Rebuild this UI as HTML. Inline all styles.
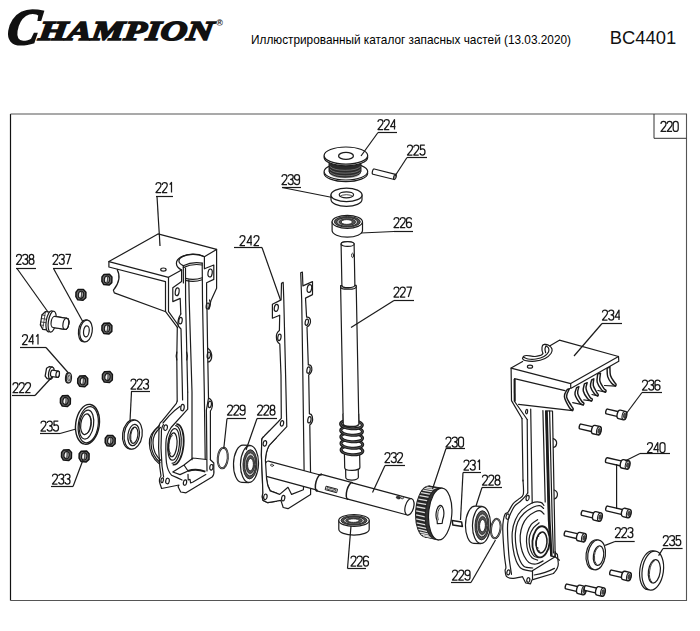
<!DOCTYPE html>
<html><head><meta charset="utf-8"><title>BC4401</title>
<style>
html,body{margin:0;padding:0;background:#fff}
svg{display:block}
.l{fill:none;stroke:#1c1c1c;stroke-width:1.2;stroke-linejoin:round;stroke-linecap:round}
.w{fill:#fff;stroke:#1c1c1c;stroke-width:1.2;stroke-linejoin:round;stroke-linecap:round}
.n{fill:none;stroke:#333;stroke-width:.7;stroke-linejoin:round;stroke-linecap:round}
.d{fill:#222;stroke:#222;stroke-width:.8;stroke-linejoin:round}
.k{fill:none;stroke:#1a1a1a;stroke-width:1.2;stroke-linecap:butt}
.t path{fill:none;stroke:#1a1a1a;stroke-width:1.25;stroke-linejoin:round;stroke-linecap:butt;vector-effect:non-scaling-stroke}
</style></head><body>
<svg width="700" height="631" viewBox="0 0 700 631">
<rect width="700" height="631" fill="#fff"/>
<g id="hdr">
<g transform="translate(5.6,44.3) skewX(-9)"><text id="logoC" x="0" y="0" font-family="Liberation Serif, serif" font-weight="bold" font-style="italic" font-size="51" stroke="#111" stroke-width="2.2" fill="#111" textLength="32" lengthAdjust="spacingAndGlyphs">C</text></g>
<g transform="translate(38,39.5) skewX(-7)"><text id="logoT" x="0" y="0" font-family="Liberation Serif, serif" font-weight="bold" font-style="italic" font-size="27.3" stroke="#111" stroke-width="1.7" fill="#111" textLength="174.5" lengthAdjust="spacingAndGlyphs">HAMPION</text></g>
<text id="reg" x="216.2" y="26.4" font-family="Liberation Sans, sans-serif" font-size="9" font-weight="bold" fill="#222">®</text>
<text id="ttl" x="251" y="44.3" font-family="Liberation Sans, sans-serif" font-size="13.3" fill="#000" textLength="320" lengthAdjust="spacingAndGlyphs">Иллюстрированный каталог запасных частей (13.03.2020)</text>
<text id="mdl" x="609.7" y="43.6" font-family="Liberation Sans, sans-serif" font-size="18.4" fill="#111">BC4401</text>
</g>
<path d="M10.5,600.5V114" stroke="#111" stroke-width="1.2" fill="none"/>
<path d="M10.5,114H686.5V600.5H10.5" stroke="#555" stroke-width="1.1" fill="none"/>
<path d="M654,114V138.3H686.5" stroke="#333" stroke-width="1" fill="none"/>
<g class="t"><path transform="translate(661.00,121.40) scale(1.000,1.000)" d="M0,2.6Q0,0 2.5,0Q5,0 5,2.5Q5,4 3.6,5.6L0,10H5"/><path transform="translate(667.10,121.40) scale(1.000,1.000)" d="M0,2.6Q0,0 2.5,0Q5,0 5,2.5Q5,4 3.6,5.6L0,10H5"/><path transform="translate(673.20,121.40) scale(1.000,1.000)" d="M0,2.5Q0,0 2.5,0Q5,0 5,2.5V7.5Q5,10 2.5,10Q0,10 0,7.5Z"/></g>
<path class="l" d="M159.3,425.5 Q150.6,433 151,443 Q151.2,455 160,462.5"/>
<path class="l" d="M160.5,427.5 Q152.6,434 153,443 Q153.2,454 161,460.5"/>
<path class="l" d="M108.9,261.6 L158,233.9 L216.6,249.4 L204.4,256.7 M108.9,261.6 L168.5,277.3 L181.6,270"/>
<path class="l" d="M108.9,261.6 V267 L165.5,281.6 M117,269.2 Q122.5,279 113.4,290.2 L114.3,292.9 L165.8,311.8 L177.4,327.4 M168.6,311.6 L178.5,325.5"/>
<path class="l" d="M168.5,277.3 V311.6 M165.5,281.6 V311.6"/>
<path class="l" d="M204.4,256.7 A15.2,8.4 0 1 0 181.6,270"/>
<path class="l" d="M203.2,256.2 A12.3,5.6 0 1 0 183.3,265.6"/>
<path class="l" d="M183.3,265.8 Q192,261.5 202.2,263.2 M183.3,267.6 Q192,263.3 202.2,265"/>
<path class="l" d="M185.5,278.4 Q194,280.6 202.2,277.8 M185.5,280.4 Q194,282.6 202.2,279.8"/>
<path class="l" d="M216.6,249.4 V288.3 L211,300.5 L208.8,309"/>
<path class="l" d="M204.4,256.7 V268.8 L213.8,265 V279.4 L206.6,282.7 V300"/>
<ellipse class="l" cx="210.10" cy="273.00" rx="2.10" ry="4.00" transform="rotate(8 210.10 273.00)"/>
<ellipse class="l" cx="163.40" cy="269.60" rx="2.70" ry="1.60"/>
<path class="l" d="M181.6,270 V281.6 L172.8,287.7 V301.6 L180.2,298.4 L180.8,314"/>
<ellipse class="l" cx="177.20" cy="291.80" rx="1.90" ry="3.90" transform="rotate(8 177.20 291.80)"/>
<path class="l" d="M183.3,265.8 L183.4,283 M185.5,268 L185.6,300 L187.7,392 M188.8,280 L189.2,300 L192,392 L192,459.7"/>
<path class="l" d="M202.2,263.2 L202.5,300 L204.3,392 L205.2,459 M206.6,300 L207,310 L207.6,348 L208.5,398 L206.4,410 L207,471"/>
<path class="l" d="M177.3,327.4 L176.8,357 L177.2,401 M180.8,314 Q177,320 178.2,326 L181,329 L181.6,354 L182.6,400"/>
<path class="l" d="M176.8,352 Q175.6,356 176.8,360 M186.6,352 Q188,356 186.8,360"/>
<path class="l" d="M208.8,309 Q211.5,304 209.5,300 M207.6,348 Q212.6,352 211.6,358 Q210.5,362 208,362 M208.5,398 Q213,400 212.4,406 Q211.6,410 210.4,411 L210.4,459.7"/>
<ellipse class="l" cx="207.70" cy="306.00" rx="1.50" ry="3.00" transform="rotate(8 207.70 306.00)"/>
<ellipse class="l" cx="208.80" cy="355.20" rx="1.60" ry="3.20" transform="rotate(8 208.80 355.20)"/>
<ellipse class="l" cx="209.80" cy="404.40" rx="1.60" ry="3.20" transform="rotate(8 209.80 404.40)"/>
<ellipse class="l" cx="180.50" cy="320.60" rx="1.70" ry="3.30" transform="rotate(8 180.50 320.60)"/>
<ellipse class="l" cx="182.50" cy="407.60" rx="1.70" ry="3.20" transform="rotate(8 182.50 407.60)"/>
<path class="l" d="M177.2,401 L176.4,403.4 L161.6,421.6 Q158.4,424 159,430 L158.6,448 L159.8,467 L161,476 Q158.6,479 159.8,483 L161.6,488.5 L179,485 L178.1,486.7 L180.7,492 L186,492.8 L212.1,477.1 Q214.6,474 213.8,470 L213.8,463 L210.4,459.7"/>
<path class="l" d="M187.7,392 L187.7,409.2 L171.1,427.5 Q165.6,436 165.9,443 Q165.6,455 166.5,463 Q167.6,471 171.5,475.2 L177,477.6 L182,480"/>
<path class="l" d="M193,458 L206.4,459.5 M193,458 L184,465 L172.8,472 L180,474.6 L188,471 L184,465"/>
<path d="M188,471 Q196,468.2 205.4,471.6" fill="none" stroke="#1a1a1a" stroke-width="1.9"/>
<path class="l" d="M188,474.4 L188.2,480 L190,479.4 L190.6,483 L193,482 L205.8,474.6"/>
<path class="l" d="M163.4,424.6 Q161,428 161.4,434 L161,448 L162,466 L163.6,477"/>
<ellipse class="l" cx="165.60" cy="427.70" rx="1.80" ry="2.80" transform="rotate(10 165.60 427.70)"/>
<ellipse class="l" cx="167.50" cy="481.00" rx="1.80" ry="2.80" transform="rotate(10 167.50 481.00)"/>
<ellipse class="l" cx="211.40" cy="467.30" rx="1.60" ry="2.80" transform="rotate(8 211.40 467.30)"/>
<ellipse class="l" cx="185.00" cy="482.60" rx="1.60" ry="2.70" transform="rotate(10 185.00 482.60)"/>
<ellipse class="l" cx="162.20" cy="480.20" rx="1.20" ry="2.40" transform="rotate(10 162.20 480.20)"/>
<g transform="translate(175.2,444.4) rotate(5)">
<path class="l" d="M0,-20.4 A8.4,20.4 0 0 1 0,20.4" style="stroke-width:1.7"/>
<path class="l" d="M-1.2,-18.8 A7.2,18.8 0 0 1 -1.4,19"/>
<ellipse cx="-1.6" cy=".2" rx="5.8" ry="15.8" class="l"/>
<ellipse cx="-2.4" cy=".6" rx="4.2" ry="12" class="l"/>
<path class="l" d="M-3.6,-8.6 A2.6,9 0 0 0 -3.6,9.6" style="stroke-width:.8"/>
</g>
<path class="l" d="M180.2,406.3 Q174,410.6 169.1,415.8 L163,423"/>
<path class="l" d="M158.2,427 Q148.8,434 149.4,443.4 Q149.6,455.6 159,463.6"/>
<g id="gsk"><path class="w" d="M281.5,283.3 L281.1,299.9 L272.4,304.2 L272.4,318.2 L279.7,315.2 L279.4,330.4 Q276,333 276.4,337.3 Q276.4,342 279.8,344 L281,375 L281.3,418.4 L278,422 L264.2,436.2 Q261.2,438 261.7,442 L261.4,455.2 L262.3,476.6 L262.9,493 Q261.6,497 263.1,500.4 L267.8,502.7 L280.9,500.4 L283.2,507.5 L288,508.7 L310.6,494.4 L310.6,476.6 L309.8,425 Q313.4,422 312.4,417 Q311.4,413.6 309.4,414 L308.7,375 Q312.6,372 311.7,367.6 Q310.8,364.4 308.3,365 L307,327 Q311.2,324.6 310.4,320 Q309.4,316.6 306.6,317.2 L305.5,298.1 L312.5,294.6 L312.5,281.6 L302.9,285.9 L302.4,272 L300.7,272.8 L301.7,300 L302.7,365 L304.1,470 L303.4,489.7 L291.6,494.4 L288,487.3 L279.7,494.4 L270.2,490.9 Q267.2,486 266.6,479 L265.4,460 Q266,451 269,445.7 L286.8,426.7 L285.6,375 L283.8,299.9 L283.2,282.4 Z"/>
<ellipse class="l" cx="276.3" cy="307.9" rx="2" ry="3.5" transform="rotate(10 276.3 307.9)"/>
<ellipse class="l" cx="279.4" cy="337.3" rx="1.6" ry="3.3" transform="rotate(10 279.4 337.3)"/>
<ellipse class="l" cx="309.4" cy="288.5" rx="2.2" ry="4" transform="rotate(10 309.4 288.5)"/>
<ellipse class="l" cx="306.8" cy="322.2" rx="1.6" ry="3.2" transform="rotate(10 306.8 322.2)"/>
<ellipse class="l" cx="308.5" cy="370.1" rx="1.6" ry="3.2" transform="rotate(10 308.5 370.1)"/>
<ellipse class="l" cx="309.4" cy="419.8" rx="1.6" ry="3.2" transform="rotate(10 309.4 419.8)"/>
<ellipse class="l" cx="282" cy="423.4" rx="1.6" ry="2.8" transform="rotate(10 282 423.4)"/>
<ellipse class="l" cx="264.9" cy="443.4" rx="1.7" ry="2.8" transform="rotate(10 264.9 443.4)"/>
<ellipse class="l" cx="265.4" cy="496.8" rx="1.7" ry="2.8" transform="rotate(10 265.4 496.8)"/>
<ellipse class="l" cx="283.2" cy="498.2" rx="1.6" ry="2.8" transform="rotate(10 283.2 498.2)"/>
</g>
<g transform="translate(266.5,468.5) rotate(15.04)">
<path class="w" d="M0,-7.7 H54.5 V-8.6 H86.5 V-8.3 H148 A4.2,8.4 0 0 1 148,8.4 H86.5 V8.6 H54.5 V7.7 H0 A3,7.7 0 0 1 0,-7.7Z"/>
<ellipse cx="148" cy="0" rx="4.2" ry="8.4" class="w"/>
<path class="l" d="M54.5,-8.6 A3.2,8.6 0 0 0 54.5,8.6 M86.5,-8.6 A3.2,8.6 0 0 0 86.5,8.6" style="stroke-width:1.5"/>
<rect x="62.5" y="1.6" width="11.5" height="3.6" class="w" style="stroke-width:.9"/><rect x="64" y="2.6" width="8.5" height="1.6" class="l" style="stroke-width:.7"/>
<ellipse cx="134.8" cy="-6.1" rx="2.1" ry="1.3" fill="#333" stroke="#222" stroke-width=".7"/><ellipse cx="138.6" cy="-6.9" rx="1.5" ry="1" fill="#fff" stroke="#222" stroke-width=".8"/>
<ellipse cx="4.5" cy="-4.6" rx="1.6" ry="1" class="l" style="stroke-width:.8"/>
</g>
<clipPath id="cg"><rect x="255" y="430" width="22" height="75"/></clipPath>
<use href="#gsk" clip-path="url(#cg)"/>
<g transform="translate(347.6,244) rotate(-1.1)">
<path class="w" d="M-6.3,224 V233.5 A6.3,2.6 0 0 0 6.3,233.5 V224Z"/>
<path class="w" d="M-7.2,209 V223.6 A7.6,2.8 0 0 0 8,223.6 V209Z"/>
<path class="w" d="M-6.5,0 A6.5,2.4 0 0 1 6.5,0 V41.5 H7.8 V180 H-7.8 V41.5 H-6.5Z"/>
<ellipse cx="0" cy="0" rx="6.5" ry="2.4" class="w"/>
<path class="l" d="M-6.5,41.5 A6.5,2.2 0 0 0 6.5,41.5 M-7.8,42.8 A7.8,2.4 0 0 0 7.8,42.8"/>
<ellipse cx="4.8" cy="11.5" rx="1" ry="2.2" class="l" style="stroke-width:.9"/>
<ellipse cx="0.4" cy="206.5" rx="10.9" ry="4.3" fill="#fff" stroke="#1a1a1a" stroke-width="3" transform="rotate(5 0 206.5)"/>
<ellipse cx="0.4" cy="206.5" rx="10.9" ry="4.3" fill="none" stroke="#999" stroke-width=".45" transform="rotate(5 0 206.5)"/>
<ellipse cx="0.4" cy="200.0" rx="10.9" ry="4.3" fill="#fff" stroke="#1a1a1a" stroke-width="3" transform="rotate(5 0 200.0)"/>
<ellipse cx="0.4" cy="200.0" rx="10.9" ry="4.3" fill="none" stroke="#999" stroke-width=".45" transform="rotate(5 0 200.0)"/>
<ellipse cx="0.4" cy="193.5" rx="10.9" ry="4.3" fill="#fff" stroke="#1a1a1a" stroke-width="3" transform="rotate(5 0 193.5)"/>
<ellipse cx="0.4" cy="193.5" rx="10.9" ry="4.3" fill="none" stroke="#999" stroke-width=".45" transform="rotate(5 0 193.5)"/>
<ellipse cx="0.4" cy="187.0" rx="10.9" ry="4.3" fill="#fff" stroke="#1a1a1a" stroke-width="3" transform="rotate(5 0 187.0)"/>
<ellipse cx="0.4" cy="187.0" rx="10.9" ry="4.3" fill="none" stroke="#999" stroke-width=".45" transform="rotate(5 0 187.0)"/>
<ellipse cx="0.4" cy="180.5" rx="10.9" ry="4.3" fill="#fff" stroke="#1a1a1a" stroke-width="3" transform="rotate(5 0 180.5)"/>
<ellipse cx="0.4" cy="180.5" rx="10.9" ry="4.3" fill="none" stroke="#999" stroke-width=".45" transform="rotate(5 0 180.5)"/>
<path class="w" d="M-7.8,170 H7.8 V180 A7.8,2.6 0 0 1 -7.8,180Z" style="stroke:none"/>
<path class="l" d="M-7.8,170 V179.6 M7.8,170 V180.4"/>
<path d="M-7.8,179.6 A7.8,2.6 0 0 0 7.8,180.4" fill="none" stroke="#222" stroke-width="1.6"/>
</g>
<ellipse cx="345.9" cy="173.2" rx="21.8" ry="8.4" class="w" style="stroke-width:1.2"/>
<ellipse cx="345.9" cy="171.6" rx="21.8" ry="8.4" class="w"/>
<path d="M329,160 V171.5 A16,6 0 0 0 361,171.5 V160Z" fill="#2a2a2a" stroke="#222" stroke-width="1"/>
<path d="M330,166.5 A16,5.5 0 0 0 360.5,166.5 M330,169.3 A16,5.5 0 0 0 360.5,169.3 M330,172 A16,5.5 0 0 0 360.5,172 M330.5,174.6 A16,5.5 0 0 0 360,174.6" stroke="#999" stroke-width=".6" fill="none"/>
<ellipse cx="345.9" cy="157.2" rx="21.8" ry="8.6" class="w"/>
<ellipse cx="345.9" cy="155.6" rx="21.8" ry="8.6" class="w"/>
<ellipse cx="346" cy="155.9" rx="7.4" ry="3.5" class="w" style="stroke-width:1.3"/>
<g transform="translate(373.6,171.6) rotate(14)"><path class="w" d="M0,-2.7 H22 V2.7 H0 A1.2,2.7 0 0 1 0,-2.7Z"/><ellipse cx="22" cy="0" rx="1.3" ry="2.7" fill="#888" stroke="#222" stroke-width="1"/></g>
<path class="w" d="M331,194.9 V199.6 A15.5,6.7 0 0 0 362,199.6 V194.9Z"/>
<ellipse cx="346.5" cy="194.9" rx="15.5" ry="6.7" class="w"/>
<ellipse cx="346.4" cy="194.8" rx="7.2" ry="3" class="w" style="stroke-width:1.2"/>
<path class="l" d="M340,196.3 A7.2,3 0 0 1 352.8,196.3" style="stroke-width:.8"/>
<path class="w" d="M332.1,221.8 V230.60000000000002 A15.2,6.5 0 0 0 362.5,230.60000000000002 V221.8Z"/>
<ellipse cx="347.3" cy="221.8" rx="15.2" ry="6.5" class="w"/>
<ellipse cx="347.3" cy="221.8" rx="13.0" ry="5.3" fill="#555" stroke="#222" stroke-width=".9"/>
<ellipse cx="347.3" cy="222.0" rx="10.6" ry="4.3" fill="#bbb" stroke="#222" stroke-width=".9"/>
<ellipse cx="347.3" cy="222.0" rx="8.2" ry="3.3" fill="#555" stroke="#222" stroke-width=".8"/>
<ellipse cx="346.8" cy="222.0" rx="5.6" ry="2.4000000000000004" fill="#fff" stroke="#222" stroke-width=".9"/>
<path class="w" d="M338.8,520.4 V529.1999999999999 A15.2,5.9 0 0 0 369.2,529.1999999999999 V520.4Z"/>
<ellipse cx="354" cy="520.4" rx="15.2" ry="5.9" class="w"/>
<ellipse cx="354" cy="520.4" rx="13.0" ry="4.7" fill="#555" stroke="#222" stroke-width=".9"/>
<ellipse cx="354" cy="520.6" rx="10.6" ry="3.7" fill="#bbb" stroke="#222" stroke-width=".9"/>
<ellipse cx="354" cy="520.6" rx="8.2" ry="2.7" fill="#555" stroke="#222" stroke-width=".8"/>
<ellipse cx="353.5" cy="520.6" rx="5.6" ry="1.8000000000000007" fill="#fff" stroke="#222" stroke-width=".9"/>
<g transform="translate(440.2,514) rotate(4)">
<ellipse cx="-13" cy="-1.5" rx="11.6" ry="25.6" fill="#262626" stroke="#222" stroke-width="1.2"/>
<path d="M-13,-27.1 L0,-26 V26 L-13,24.1Z" fill="#262626" stroke="#222" stroke-width="1"/>
<path d="M-15.7,22.8 L-4.3,24.6" stroke="#ddd" stroke-width="1.3" fill="none"/>
<path d="M-17.5,21.4 L-6.0,23.3" stroke="#ddd" stroke-width="1.3" fill="none"/>
<path d="M-19.1,19.5 L-7.7,21.3" stroke="#ddd" stroke-width="1.3" fill="none"/>
<path d="M-20.6,16.9 L-9.2,18.7" stroke="#ddd" stroke-width="1.3" fill="none"/>
<path d="M-21.8,13.9 L-10.5,15.6" stroke="#ddd" stroke-width="1.3" fill="none"/>
<path d="M-22.8,10.4 L-11.5,12.1" stroke="#ddd" stroke-width="1.3" fill="none"/>
<path d="M-23.6,6.6 L-12.3,8.3" stroke="#ddd" stroke-width="1.3" fill="none"/>
<path d="M-24.0,2.6 L-12.7,4.2" stroke="#ddd" stroke-width="1.3" fill="none"/>
<path d="M-24.2,-1.5 L-12.9,0.0" stroke="#ddd" stroke-width="1.3" fill="none"/>
<path d="M-24.0,-5.6 L-12.7,-4.2" stroke="#ddd" stroke-width="1.3" fill="none"/>
<path d="M-23.6,-9.6 L-12.3,-8.3" stroke="#ddd" stroke-width="1.3" fill="none"/>
<path d="M-22.8,-13.4 L-11.5,-12.1" stroke="#ddd" stroke-width="1.3" fill="none"/>
<path d="M-21.8,-16.9 L-10.5,-15.6" stroke="#ddd" stroke-width="1.3" fill="none"/>
<path d="M-20.6,-19.9 L-9.2,-18.7" stroke="#ddd" stroke-width="1.3" fill="none"/>
<path d="M-19.1,-22.5 L-7.7,-21.3" stroke="#ddd" stroke-width="1.3" fill="none"/>
<path d="M-17.5,-24.4 L-6.0,-23.3" stroke="#ddd" stroke-width="1.3" fill="none"/>
<path d="M-15.7,-25.8 L-4.3,-24.6" stroke="#ddd" stroke-width="1.3" fill="none"/>
<ellipse cx="-3.4" cy="0" rx="11.5" ry="25.4" fill="#333" stroke="#222" stroke-width="1"/>
<ellipse cx="0" cy="0" rx="11.6" ry="26" class="w" style="stroke-width:1.2"/>
<path class="w" d="M-.9,-8.6 A4.3,9 0 0 1 2.9,5.5 L2.6,9.2 L-2.2,9.8 L-2.6,7 A4.3,9 0 0 1 -.9,-8.6Z"/>
<path class="l" d="M.4,-7.4 A3.3,8 0 0 0 -1.6,6" style="stroke-width:.8"/>
</g>
<g transform="translate(249.5,464) rotate(2)">
<path class="w" d="M-7,-18.6 H0 V18.6 H-7 A9,18.6 0 0 1 -7,-18.6Z"/>
<ellipse cx="0" cy="0" rx="9" ry="18.4" class="w"/>
<ellipse cx=".5" cy=".3" rx="7" ry="14.6" fill="#555" stroke="#222" stroke-width=".9"/>
<ellipse cx=".7" cy=".4" rx="5.6" ry="11.6" fill="#ccc" stroke="#222" stroke-width=".9"/>
<ellipse cx=".9" cy=".5" rx="4.3" ry="9" fill="#555" stroke="#222" stroke-width=".8"/>
<ellipse cx="1" cy=".6" rx="2.9" ry="6.2" fill="#fff" stroke="#222" stroke-width=".9"/>
</g>
<g transform="translate(481.5,525) rotate(2)">
<path class="w" d="M-7,-18.6 H0 V18.6 H-7 A9,18.6 0 0 1 -7,-18.6Z"/>
<ellipse cx="0" cy="0" rx="9" ry="18.4" class="w"/>
<ellipse cx=".5" cy=".3" rx="7" ry="14.6" fill="#555" stroke="#222" stroke-width=".9"/>
<ellipse cx=".7" cy=".4" rx="5.6" ry="11.6" fill="#ccc" stroke="#222" stroke-width=".9"/>
<ellipse cx=".9" cy=".5" rx="4.3" ry="9" fill="#555" stroke="#222" stroke-width=".8"/>
<ellipse cx="1" cy=".6" rx="2.9" ry="6.2" fill="#fff" stroke="#222" stroke-width=".9"/>
</g>
<path class="l" d="M522,418.5 L523,481 M527.2,419.5 L527.8,493 M530.7,409 L532.2,503"/>
<path class="l" d="M542.9,410.6 L545.2,502"/>
<path d="M607.10,368.30 C607.20,369.68 606.95,374.10 607.70,376.60 C608.45,379.10 610.30,381.72 611.60,383.30 C612.90,384.88 614.85,385.63 615.50,386.10 Q616.7,385.0 615.8,383.8 L615.80,383.80 C615.57,383.53 615.28,383.58 614.40,382.20 C613.52,380.82 611.25,378.10 610.50,375.50 C609.75,372.90 610.00,368.08 609.90,366.60Z" fill="#fff" stroke="#1a1a1a" stroke-width="1.45" stroke-linejoin="round"/>
<path class="l" d="M615.5,386.1 L604.5,385.5"/>
<path d="M597.70,373.90 C597.62,375.28 596.55,379.53 597.20,382.20 C597.85,384.87 600.22,388.23 601.60,389.90 C602.98,391.57 604.85,391.82 605.50,392.20 Q606.7,391.0 605.5,389.9 L605.50,389.90 C605.22,389.63 604.73,389.77 603.80,388.30 C602.87,386.83 600.45,383.60 599.90,381.10 C599.35,378.60 600.40,374.60 600.50,373.30Z" fill="#fff" stroke="#1a1a1a" stroke-width="1.45" stroke-linejoin="round"/>
<path class="l" d="M605.5,392.2 L597.9,390.5"/>
<path d="M591.60,380.00 C591.42,381.10 590.03,384.30 590.50,386.60 C590.97,388.90 593.20,392.23 594.40,393.80 C595.60,395.37 597.15,395.63 597.70,396.00 Q598.9,394.9 597.7,393.8 L597.70,393.80 C597.52,393.53 597.33,393.58 596.60,392.20 C595.87,390.82 593.77,387.73 593.30,385.50 C592.83,383.27 593.72,379.92 593.80,378.80Z" fill="#fff" stroke="#1a1a1a" stroke-width="1.45" stroke-linejoin="round"/>
<path class="l" d="M597.7,396.0 L592.0,394.5"/>
<path d="M584.40,383.80 C584.22,385.00 582.75,388.50 583.30,391.00 C583.85,393.50 586.32,397.13 587.70,398.80 C589.08,400.47 590.95,400.63 591.60,401.00 Q592.8,399.9 592.2,398.8 L592.20,398.80 C591.82,398.52 590.92,398.77 589.90,397.10 C588.88,395.43 586.55,391.20 586.10,388.80 C585.65,386.40 587.02,383.72 587.20,382.70Z" fill="#fff" stroke="#1a1a1a" stroke-width="1.45" stroke-linejoin="round"/>
<path class="l" d="M591.6,401.0 L583.8,399.9"/>
<path d="M576.60,387.70 C576.33,388.82 574.43,391.82 575.00,394.40 C575.57,396.98 578.62,401.45 580.00,403.20 C581.38,404.95 582.75,404.62 583.30,404.90 Q584.5,403.8 583.6,402.7 L583.60,402.70 C583.27,402.42 582.58,402.57 581.60,401.00 C580.62,399.43 578.15,395.70 577.70,393.30 C577.25,390.90 578.70,387.72 578.90,386.60Z" fill="#fff" stroke="#1a1a1a" stroke-width="1.45" stroke-linejoin="round"/>
<path class="l" d="M583.3,404.9 L572.7,402.7"/>
<path d="M567.20,389.40 C566.73,390.60 564.03,393.55 564.40,396.60 C564.77,399.65 568.02,405.38 569.40,407.70 C570.78,410.02 572.15,410.03 572.70,410.50 Q573.9,409.1 572.7,407.7 L572.70,407.70 C572.43,407.33 572.12,407.35 571.10,405.50 C570.08,403.65 566.88,399.38 566.60,396.60 C566.32,393.82 568.93,390.10 569.40,388.80Z" fill="#fff" stroke="#1a1a1a" stroke-width="1.45" stroke-linejoin="round"/>
<path d="M511.1,368.1 L559.4,340.2 L618.5,356.5 L618.8,361.3 L570.7,388.5 L570.7,383.6Z" fill="#fff" stroke="none"/>
<path class="l" d="M522.6,361.5 L511.1,368.1 L570.7,383.6 L570.7,388.5 L618.8,361.3 L618.5,356.5 L559.4,340.2 L549.6,345.9"/>
<path class="l" d="M570.7,383.6 L618.5,356.5"/>
<path class="l" d="M511.1,368.1 L511.5,400.6 L522,418.5 M514.5,378.7 L514.6,401.5 L527.2,419.5 M514.5,378.7 L565,390.6"/>
<path class="l" d="M518.6,404.3 L572.6,410.6"/>
<path d="M514.6,378.9 L514.7,401.4" fill="none" stroke="#1a1a1a" stroke-width="2"/>
<path class="w" d="M522.50,358.50 C522.92,358.83 522.92,360.05 525.00,360.50 C527.08,360.95 531.67,361.53 535.00,361.20 C538.33,360.87 542.33,359.78 545.00,358.50 C547.67,357.22 549.83,355.08 551.00,353.50 C552.17,351.92 552.33,350.33 552.00,349.00 C551.67,347.67 550.17,346.30 549.00,345.50 C547.83,344.70 545.67,344.42 545.00,344.20 L545.00,344.20 C544.58,344.42 543.00,344.53 542.50,345.50 C542.00,346.47 541.92,348.67 542.00,350.00 C542.08,351.33 542.83,352.92 543.00,353.50 L541.5,355 L541.50,355.00 C540.42,355.25 537.50,356.42 535.00,356.50 C532.50,356.58 528.42,355.50 526.50,355.50 C524.58,355.50 524.17,356.00 523.50,356.50 C522.83,357.00 522.67,358.17 522.50,358.50Z"/>
<path class="l" d="M523.50,357.20 C524.25,357.50 525.92,358.70 528.00,359.00 C530.08,359.30 533.33,359.42 536.00,359.00 C538.67,358.58 541.92,357.67 544.00,356.50 C546.08,355.33 547.75,353.42 548.50,352.00 C549.25,350.58 548.92,349.00 548.50,348.00 C548.08,347.00 546.42,346.33 546.00,346.00"/>
<path class="l" d="M546.00,346.00 C545.83,346.50 545.07,347.90 545.00,349.00 C544.93,350.10 545.50,352.00 545.60,352.60"/>
<ellipse class="l" cx="530.00" cy="366.70" rx="2.60" ry="1.50"/>
<ellipse class="l" cx="526.60" cy="411.60" rx="1.00" ry="2.20" transform="rotate(10 526.60 411.60)"/>
<path class="l" d="M523.00,480.00 C523.05,482.38 524.03,491.12 523.30,494.30 C522.57,497.48 520.32,497.52 518.60,499.10 C516.88,500.68 514.72,501.68 513.00,503.80 C511.28,505.92 509.62,510.08 508.30,511.80 C506.98,513.52 505.90,512.78 505.10,514.10 C504.30,515.42 503.89,517.18 503.50,519.70 C503.11,522.22 502.62,523.40 502.75,529.20 C502.88,535.00 503.78,548.17 504.30,554.50 C504.82,560.83 505.77,564.55 505.90,567.20 C506.03,569.85 504.97,568.82 505.10,570.40 C505.23,571.98 505.50,575.38 506.70,576.70 C507.90,578.02 509.67,578.30 512.30,578.30 C514.93,578.30 520.80,576.97 522.50,576.70 L525.7,583 L530.5,583.8 L532,579.9 L553.4,573.5 Q559,568 558.2,562.4 L557.4,554.5 L555.1,552.5"/>
<path class="l" d="M527.60,493.00 C527.28,493.48 526.93,494.48 525.70,495.90 C524.47,497.32 522.05,499.78 520.20,501.50 C518.35,503.22 516.18,504.23 514.60,506.20 C513.02,508.17 511.75,511.05 510.70,513.30 C509.65,515.55 508.83,517.05 508.30,519.70 C507.77,522.35 507.42,523.40 507.50,529.20 C507.58,535.00 508.32,548.17 508.80,554.50 C509.28,560.83 509.95,563.90 510.40,567.20 C510.85,570.50 511.32,573.12 511.50,574.30"/>
<ellipse class="l" cx="527.60" cy="498.00" rx="1.50" ry="2.70" transform="rotate(10 527.60 498.00)"/>
<ellipse class="l" cx="507.60" cy="516.60" rx="1.50" ry="2.70" transform="rotate(10 507.60 516.60)"/>
<ellipse class="l" cx="508.40" cy="572.40" rx="1.50" ry="2.50" transform="rotate(10 508.40 572.40)"/>
<ellipse class="l" cx="528.30" cy="580.00" rx="1.50" ry="2.30" transform="rotate(10 528.30 580.00)"/>
<path class="l" d="M543.90,505.40 C543.38,504.88 542.78,502.70 540.80,502.30 C538.82,501.90 535.17,501.68 532.00,503.00 C528.83,504.32 524.57,507.42 521.80,510.20 C519.03,512.98 516.99,516.02 515.40,519.70 C513.81,523.38 512.65,527.55 512.25,532.30 C511.85,537.05 512.34,543.43 513.00,548.20 C513.66,552.97 514.73,557.47 516.20,560.90 C517.67,564.33 519.17,567.10 521.80,568.80 C524.43,570.50 530.30,570.72 532.00,571.10 L555.1,556.7"/>
<path class="l" d="M543.60,508.40 C542.97,507.93 541.47,505.83 539.80,505.60 C538.13,505.37 536.22,505.72 533.60,507.00 C530.98,508.28 526.73,510.80 524.10,513.30 C521.47,515.80 519.25,518.70 517.80,522.00 C516.35,525.30 515.67,528.87 515.40,533.10 C515.13,537.33 515.53,543.03 516.20,547.40 C516.87,551.77 518.08,556.13 519.40,559.30 C520.72,562.47 521.87,564.95 524.10,566.40 C526.33,567.85 531.35,567.73 532.80,568.00"/>
<path class="l" d="M544.00,514.00 C543.40,513.47 541.87,511.17 540.40,510.80 C538.93,510.43 537.38,510.72 535.20,511.80 C533.02,512.88 529.42,515.07 527.30,517.30 C525.18,519.53 523.68,522.17 522.50,525.20 C521.32,528.23 520.45,531.93 520.20,535.50 C519.95,539.07 520.35,543.17 521.00,546.60 C521.65,550.03 522.78,553.47 524.10,556.10 C525.42,558.73 526.92,561.08 528.90,562.40 C530.88,563.72 533.63,564.25 536.00,564.00 C538.37,563.75 541.92,561.42 543.10,560.90"/>
<path class="l" d="M537.60,519.70 C536.55,520.48 533.02,522.17 531.30,524.40 C529.58,526.63 528.10,530.20 527.30,533.10 C526.50,536.00 526.37,538.75 526.50,541.80 C526.63,544.85 527.18,548.75 528.10,551.40 C529.02,554.05 530.42,556.25 532.00,557.70 C533.58,559.15 536.67,559.70 537.60,560.10"/>
<path class="l" d="M539.20,522.80 C538.27,523.60 535.18,525.48 533.60,527.60 C532.02,529.72 530.43,533.00 529.70,535.50 C528.97,538.00 529.02,540.08 529.20,542.60 C529.38,545.12 529.98,548.35 530.80,550.60 C531.62,552.85 532.83,554.92 534.10,556.10 C535.37,557.28 537.68,557.43 538.40,557.70"/>
<g transform="translate(541,541.8) rotate(5)">
<ellipse cx="0" cy="0" rx="8.6" ry="15.6" fill="#fff" stroke="#1c1c1c" stroke-width="1.8"/>
<ellipse cx=".6" cy=".6" rx="5.4" ry="10.5" fill="#fff" stroke="#1c1c1c" stroke-width="1.5"/>
<path class="l" d="M-.8,-8.6 A4,8.8 0 0 0 -.4,9.6 M-2.6,-5.6 A2.6,6 0 0 0 -2.2,6.6" style="stroke-width:.9"/>
</g>
<path class="w" d="M545.6,410.8 L552.5,411 L555.1,551.5 L555.1,556.7 L551,556.2 L548.4,520Z"/>
<path d="M546.6,411 L549.4,520 L551.4,556" fill="none" stroke="#1c1c1c" stroke-width="2.4"/>
<path class="l" d="M549.6,411 L552.2,520 L553.4,553"/>
<path class="l" d="M553.4,438.6 Q557,440 556.6,443.6 Q556.2,446.8 553.6,447.4 M554.3,490 Q557.8,491.6 557.4,495 Q557,498.4 554.4,499"/>
<path class="l" d="M532.5,570.6 V578.5 M555.1,551.5 V556.7 L559.5,560.2 M534.2,575 Q546,573 554.4,568.4"/>
<g transform="translate(107.00,279.60)">
<path d="M-3,-5.2 L2.4,-5.4 L4.9,-2.6 L4.8,3 L2,5.5 L-3.2,5 L-5.1,1.8 L-5,-2.6Z" fill="#6e6e6e" stroke="#141414" stroke-width="1.5" stroke-linejoin="round"/>
<ellipse cx="0" cy="0" rx="2.7" ry="3.6" fill="#9c9c9c" stroke="#1a1a1a" stroke-width="1.1" transform="rotate(8)"/>
<ellipse cx="-.9" cy="0" rx=".9" ry="2.5" fill="#f6f6f6" transform="rotate(8)"/>
<path d="M.6,-3.2 L.3,3.2" stroke="#333" stroke-width=".8" fill="none"/>
</g>
<g transform="translate(81.00,294.80)">
<path d="M-3,-5.2 L2.4,-5.4 L4.9,-2.6 L4.8,3 L2,5.5 L-3.2,5 L-5.1,1.8 L-5,-2.6Z" fill="#6e6e6e" stroke="#141414" stroke-width="1.5" stroke-linejoin="round"/>
<ellipse cx="0" cy="0" rx="2.7" ry="3.6" fill="#9c9c9c" stroke="#1a1a1a" stroke-width="1.1" transform="rotate(8)"/>
<ellipse cx="-.9" cy="0" rx=".9" ry="2.5" fill="#f6f6f6" transform="rotate(8)"/>
<path d="M.6,-3.2 L.3,3.2" stroke="#333" stroke-width=".8" fill="none"/>
</g>
<g transform="translate(107.00,328.40)">
<path d="M-3,-5.2 L2.4,-5.4 L4.9,-2.6 L4.8,3 L2,5.5 L-3.2,5 L-5.1,1.8 L-5,-2.6Z" fill="#6e6e6e" stroke="#141414" stroke-width="1.5" stroke-linejoin="round"/>
<ellipse cx="0" cy="0" rx="2.7" ry="3.6" fill="#9c9c9c" stroke="#1a1a1a" stroke-width="1.1" transform="rotate(8)"/>
<ellipse cx="-.9" cy="0" rx=".9" ry="2.5" fill="#f6f6f6" transform="rotate(8)"/>
<path d="M.6,-3.2 L.3,3.2" stroke="#333" stroke-width=".8" fill="none"/>
</g>
<g transform="translate(107.50,377.00)">
<path d="M-3,-5.2 L2.4,-5.4 L4.9,-2.6 L4.8,3 L2,5.5 L-3.2,5 L-5.1,1.8 L-5,-2.6Z" fill="#6e6e6e" stroke="#141414" stroke-width="1.5" stroke-linejoin="round"/>
<ellipse cx="0" cy="0" rx="2.7" ry="3.6" fill="#9c9c9c" stroke="#1a1a1a" stroke-width="1.1" transform="rotate(8)"/>
<ellipse cx="-.9" cy="0" rx=".9" ry="2.5" fill="#f6f6f6" transform="rotate(8)"/>
<path d="M.6,-3.2 L.3,3.2" stroke="#333" stroke-width=".8" fill="none"/>
</g>
<g transform="translate(82.80,381.20)">
<path d="M-3,-5.2 L2.4,-5.4 L4.9,-2.6 L4.8,3 L2,5.5 L-3.2,5 L-5.1,1.8 L-5,-2.6Z" fill="#6e6e6e" stroke="#141414" stroke-width="1.5" stroke-linejoin="round"/>
<ellipse cx="0" cy="0" rx="2.7" ry="3.6" fill="#9c9c9c" stroke="#1a1a1a" stroke-width="1.1" transform="rotate(8)"/>
<ellipse cx="-.9" cy="0" rx=".9" ry="2.5" fill="#f6f6f6" transform="rotate(8)"/>
<path d="M.6,-3.2 L.3,3.2" stroke="#333" stroke-width=".8" fill="none"/>
</g>
<g transform="translate(65.50,401.00)">
<path d="M-3,-5.2 L2.4,-5.4 L4.9,-2.6 L4.8,3 L2,5.5 L-3.2,5 L-5.1,1.8 L-5,-2.6Z" fill="#6e6e6e" stroke="#141414" stroke-width="1.5" stroke-linejoin="round"/>
<ellipse cx="0" cy="0" rx="2.7" ry="3.6" fill="#9c9c9c" stroke="#1a1a1a" stroke-width="1.1" transform="rotate(8)"/>
<ellipse cx="-.9" cy="0" rx=".9" ry="2.5" fill="#f6f6f6" transform="rotate(8)"/>
<path d="M.6,-3.2 L.3,3.2" stroke="#333" stroke-width=".8" fill="none"/>
</g>
<g transform="translate(66.60,455.10)">
<path d="M-3,-5.2 L2.4,-5.4 L4.9,-2.6 L4.8,3 L2,5.5 L-3.2,5 L-5.1,1.8 L-5,-2.6Z" fill="#6e6e6e" stroke="#141414" stroke-width="1.5" stroke-linejoin="round"/>
<ellipse cx="0" cy="0" rx="2.7" ry="3.6" fill="#9c9c9c" stroke="#1a1a1a" stroke-width="1.1" transform="rotate(8)"/>
<ellipse cx="-.9" cy="0" rx=".9" ry="2.5" fill="#f6f6f6" transform="rotate(8)"/>
<path d="M.6,-3.2 L.3,3.2" stroke="#333" stroke-width=".8" fill="none"/>
</g>
<g transform="translate(84.20,456.40)">
<path d="M-3,-5.2 L2.4,-5.4 L4.9,-2.6 L4.8,3 L2,5.5 L-3.2,5 L-5.1,1.8 L-5,-2.6Z" fill="#6e6e6e" stroke="#141414" stroke-width="1.5" stroke-linejoin="round"/>
<ellipse cx="0" cy="0" rx="2.7" ry="3.6" fill="#9c9c9c" stroke="#1a1a1a" stroke-width="1.1" transform="rotate(8)"/>
<ellipse cx="-.9" cy="0" rx=".9" ry="2.5" fill="#f6f6f6" transform="rotate(8)"/>
<path d="M.6,-3.2 L.3,3.2" stroke="#333" stroke-width=".8" fill="none"/>
</g>
<g transform="translate(110.30,440.80)">
<path d="M-3,-5.2 L2.4,-5.4 L4.9,-2.6 L4.8,3 L2,5.5 L-3.2,5 L-5.1,1.8 L-5,-2.6Z" fill="#6e6e6e" stroke="#141414" stroke-width="1.5" stroke-linejoin="round"/>
<ellipse cx="0" cy="0" rx="2.7" ry="3.6" fill="#9c9c9c" stroke="#1a1a1a" stroke-width="1.1" transform="rotate(8)"/>
<ellipse cx="-.9" cy="0" rx=".9" ry="2.5" fill="#f6f6f6" transform="rotate(8)"/>
<path d="M.6,-3.2 L.3,3.2" stroke="#333" stroke-width=".8" fill="none"/>
</g>
<g transform="translate(86,331) rotate(8)">
<ellipse cx="-1.3" rx="6.2" ry="11" class="w"/><ellipse rx="6.2" ry="11" class="w"/><ellipse cx=".4" cy=".3" rx="2.8" ry="5.6" class="l"/>
</g>
<g transform="translate(68.9,377.9) rotate(5)"><ellipse cx="-.8" rx="2.6" ry="5" class="w" style="stroke-width:1.2"/><ellipse rx="2.6" ry="5" fill="#bbb" stroke="#222" stroke-width="1.2"/><ellipse cx=".2" rx="1.1" ry="2.8" fill="#fff" stroke="#222" stroke-width=".8"/></g>
<g transform="translate(51,321.5) rotate(9)">
<path class="w" d="M3,-5.6 H15 A2.8,5.6 0 0 1 15,5.6 H3Z"/>
<ellipse cx="15" cy="0" rx="2.8" ry="5.6" class="w"/>
<path class="w" d="M-10,-5 L-7,-9 H-3 V9 H-7 L-10,5Z" style="stroke-width:1.2"/>
<path class="l" d="M-7,-9V9M-10,-5H-7M-10,5H-7M-10,-1.5H-3M-10,2H-3" style="stroke-width:.7"/>
<ellipse cx="-1" cy="0" rx="3.8" ry="10.6" class="w" style="stroke-width:1.2"/>
<ellipse cx="1.2" cy="0" rx="3.8" ry="10.6" class="w" style="stroke-width:1.2"/>
<path class="w" d="M3,-5.6 H15 A2.8,5.6 0 0 1 15,5.6 H3 A2.8,5.6 0 0 1 3,-5.6Z"/>
<ellipse cx="15" cy="0" rx="2.8" ry="5.6" class="w"/>
</g>
<g transform="translate(49.3,372.8) rotate(10)">
<path class="w" d="M-3.5,-4 L-1,-6.2 H2 V6.2 H-1 L-3.5,4Z" style="stroke-width:1.3" fill="#ccc"/>
<ellipse cx="2" cy="0" rx="2.6" ry="6.2" class="w" style="stroke-width:1.3"/>
<path class="w" d="M3,-3.2 H8.5 A1.7,3.2 0 0 1 8.5,3.2 H3 A1.7,3.2 0 0 1 3,-3.2Z"/>
<ellipse cx="8.5" cy="0" rx="1.7" ry="3.2" class="w"/>
</g>
<g transform="translate(87.5,424.3) rotate(8)">
<ellipse rx="11.8" ry="20" class="w" style="stroke-width:1.4"/>
<ellipse cx=".8" cy=".3" rx="9.9" ry="18.2" class="l"/>
<ellipse cx="-1" cy=".4" rx="7.1" ry="14.6" class="l"/>
<ellipse cx="-1.7" cy=".2" rx="5" ry="10.4" class="l"/>
<path class="l" d="M-.2,-9.4 A4.2,9.6 0 0 1 -.4,9.8" style="stroke-width:.8"/>
</g>
<g transform="translate(133.20,434.60) rotate(8)">
<ellipse cx="-1.60" cy="0" rx="9.00" ry="14.60" class="w"/>
<ellipse cx="0" cy="0" rx="9.00" ry="14.60" class="w"/>
<ellipse cx="0.50" cy="0.4" rx="5.70" ry="10.72" class="l"/>
<ellipse cx="0.80" cy="0.5" rx="3.90" ry="8.20" class="l"/>
<path class="l" d="M-0.40,-6.50 A3.10,7.60 0 0 0 -0.20,7.70" style="stroke-width:.8"/>
</g>
<ellipse cx="222.8" cy="458" rx="5" ry="10.4" fill="none" stroke="#1a1a1a" stroke-width="2" transform="rotate(5 222.8 458)"/><ellipse cx="222.8" cy="458" rx="5" ry="10.4" fill="none" stroke="#ccc" stroke-width=".5" transform="rotate(5 222.8 458)"/>
<g transform="translate(607.00,411.50) rotate(13)" stroke-width="1.4">
<path d="M0,-2.5 H12.8 V2.5 H0 A1.2,2.5 0 0 1 0,-2.5Z" fill="#fff" stroke="#1a1a1a" stroke-linejoin="round"/>
<path d="M12.8,-4.3 H17.8 A2.3,4.3 0 0 1 17.8,4.3 H12.8 A2.3,4.3 0 0 1 12.8,-4.3Z" fill="#fff" stroke="#1a1a1a" stroke-linejoin="round"/>
<ellipse cx="17.700000000000003" cy="0" rx="2.1" ry="4" fill="#ddd" stroke="#1a1a1a" stroke-width="1"/>
<ellipse cx="18.0" cy="0" rx="1.1" ry="2.3" fill="#555" stroke="#222" stroke-width=".7"/>
</g>
<g transform="translate(580.50,426.50) rotate(13)" stroke-width="1.4">
<path d="M0,-2.5 H13.8 V2.5 H0 A1.2,2.5 0 0 1 0,-2.5Z" fill="#fff" stroke="#1a1a1a" stroke-linejoin="round"/>
<path d="M13.8,-4.3 H18.8 A2.3,4.3 0 0 1 18.8,4.3 H13.8 A2.3,4.3 0 0 1 13.8,-4.3Z" fill="#fff" stroke="#1a1a1a" stroke-linejoin="round"/>
<ellipse cx="18.700000000000003" cy="0" rx="2.1" ry="4" fill="#ddd" stroke="#1a1a1a" stroke-width="1"/>
<ellipse cx="19.0" cy="0" rx="1.1" ry="2.3" fill="#555" stroke="#222" stroke-width=".7"/>
</g>
<g transform="translate(606.80,460.20) rotate(13)" stroke-width="1.4">
<path d="M0,-2.5 H16.3 V2.5 H0 A1.2,2.5 0 0 1 0,-2.5Z" fill="#fff" stroke="#1a1a1a" stroke-linejoin="round"/>
<path d="M16.3,-4.3 H21.3 A2.3,4.3 0 0 1 21.3,4.3 H16.3 A2.3,4.3 0 0 1 16.3,-4.3Z" fill="#fff" stroke="#1a1a1a" stroke-linejoin="round"/>
<ellipse cx="21.200000000000003" cy="0" rx="2.1" ry="4" fill="#ddd" stroke="#1a1a1a" stroke-width="1"/>
<ellipse cx="21.5" cy="0" rx="1.1" ry="2.3" fill="#555" stroke="#222" stroke-width=".7"/>
</g>
<g transform="translate(607.00,508.50) rotate(13)" stroke-width="1.4">
<path d="M0,-2.5 H17.3 V2.5 H0 A1.2,2.5 0 0 1 0,-2.5Z" fill="#fff" stroke="#1a1a1a" stroke-linejoin="round"/>
<path d="M17.3,-4.3 H22.3 A2.3,4.3 0 0 1 22.3,4.3 H17.3 A2.3,4.3 0 0 1 17.3,-4.3Z" fill="#fff" stroke="#1a1a1a" stroke-linejoin="round"/>
<ellipse cx="22.200000000000003" cy="0" rx="2.1" ry="4" fill="#ddd" stroke="#1a1a1a" stroke-width="1"/>
<ellipse cx="22.5" cy="0" rx="1.1" ry="2.3" fill="#555" stroke="#222" stroke-width=".7"/>
</g>
<g transform="translate(582.50,513.00) rotate(13)" stroke-width="1.4">
<path d="M0,-2.5 H12.8 V2.5 H0 A1.2,2.5 0 0 1 0,-2.5Z" fill="#fff" stroke="#1a1a1a" stroke-linejoin="round"/>
<path d="M12.8,-4.3 H17.8 A2.3,4.3 0 0 1 17.8,4.3 H12.8 A2.3,4.3 0 0 1 12.8,-4.3Z" fill="#fff" stroke="#1a1a1a" stroke-linejoin="round"/>
<ellipse cx="17.700000000000003" cy="0" rx="2.1" ry="4" fill="#ddd" stroke="#1a1a1a" stroke-width="1"/>
<ellipse cx="18.0" cy="0" rx="1.1" ry="2.3" fill="#555" stroke="#222" stroke-width=".7"/>
</g>
<g transform="translate(565.50,533.50) rotate(13)" stroke-width="1.4">
<path d="M0,-2.5 H13.8 V2.5 H0 A1.2,2.5 0 0 1 0,-2.5Z" fill="#fff" stroke="#1a1a1a" stroke-linejoin="round"/>
<path d="M13.8,-4.3 H18.8 A2.3,4.3 0 0 1 18.8,4.3 H13.8 A2.3,4.3 0 0 1 13.8,-4.3Z" fill="#fff" stroke="#1a1a1a" stroke-linejoin="round"/>
<ellipse cx="18.700000000000003" cy="0" rx="2.1" ry="4" fill="#ddd" stroke="#1a1a1a" stroke-width="1"/>
<ellipse cx="19.0" cy="0" rx="1.1" ry="2.3" fill="#555" stroke="#222" stroke-width=".7"/>
</g>
<g transform="translate(611.00,572.50) rotate(13)" stroke-width="1.4">
<path d="M0,-2.5 H13.3 V2.5 H0 A1.2,2.5 0 0 1 0,-2.5Z" fill="#fff" stroke="#1a1a1a" stroke-linejoin="round"/>
<path d="M13.3,-4.3 H18.3 A2.3,4.3 0 0 1 18.3,4.3 H13.3 A2.3,4.3 0 0 1 13.3,-4.3Z" fill="#fff" stroke="#1a1a1a" stroke-linejoin="round"/>
<ellipse cx="18.200000000000003" cy="0" rx="2.1" ry="4" fill="#ddd" stroke="#1a1a1a" stroke-width="1"/>
<ellipse cx="18.5" cy="0" rx="1.1" ry="2.3" fill="#555" stroke="#222" stroke-width=".7"/>
</g>
<g transform="translate(566.50,586.50) rotate(13)" stroke-width="1.4">
<path d="M0,-2.5 H12.8 V2.5 H0 A1.2,2.5 0 0 1 0,-2.5Z" fill="#fff" stroke="#1a1a1a" stroke-linejoin="round"/>
<path d="M12.8,-4.3 H17.8 A2.3,4.3 0 0 1 17.8,4.3 H12.8 A2.3,4.3 0 0 1 12.8,-4.3Z" fill="#fff" stroke="#1a1a1a" stroke-linejoin="round"/>
<ellipse cx="17.700000000000003" cy="0" rx="2.1" ry="4" fill="#ddd" stroke="#1a1a1a" stroke-width="1"/>
<ellipse cx="18.0" cy="0" rx="1.1" ry="2.3" fill="#555" stroke="#222" stroke-width=".7"/>
</g>
<g transform="translate(585.50,588.00) rotate(13)" stroke-width="1.4">
<path d="M0,-2.5 H12.8 V2.5 H0 A1.2,2.5 0 0 1 0,-2.5Z" fill="#fff" stroke="#1a1a1a" stroke-linejoin="round"/>
<path d="M12.8,-4.3 H17.8 A2.3,4.3 0 0 1 17.8,4.3 H12.8 A2.3,4.3 0 0 1 12.8,-4.3Z" fill="#fff" stroke="#1a1a1a" stroke-linejoin="round"/>
<ellipse cx="17.700000000000003" cy="0" rx="2.1" ry="4" fill="#ddd" stroke="#1a1a1a" stroke-width="1"/>
<ellipse cx="18.0" cy="0" rx="1.1" ry="2.3" fill="#555" stroke="#222" stroke-width=".7"/>
</g>
<g transform="translate(596.60,554.90) rotate(8)">
<ellipse cx="-1.70" cy="0" rx="8.80" ry="15.00" class="w"/>
<ellipse cx="0" cy="0" rx="8.80" ry="15.00" class="w"/>
<ellipse cx="2.00" cy="0.5" rx="5.10" ry="9.80" class="l"/>
<path class="l" d="M0.80,-8.10 A4.30,9.20 0 0 0 1.00,9.30" style="stroke-width:.8"/>
</g>
<g transform="translate(652.80,570.60) rotate(8)">
<ellipse cx="-2.40" cy="0" rx="10.60" ry="19.60" class="w"/>
<ellipse cx="0" cy="0" rx="10.60" ry="19.60" class="w"/>
<ellipse cx="1.60" cy="0.5" rx="5.90" ry="11.80" class="l"/>
<path class="l" d="M0.40,-10.10 A5.10,11.20 0 0 0 0.60,11.30" style="stroke-width:.8"/>
</g>
<ellipse cx="495.8" cy="528.6" rx="4.7" ry="9.8" fill="none" stroke="#1a1a1a" stroke-width="2" transform="rotate(8 495.8 528.6)"/><ellipse cx="495.8" cy="528.6" rx="4.7" ry="9.8" fill="none" stroke="#ccc" stroke-width=".5" transform="rotate(8 495.8 528.6)"/>
<path d="M452.1,520.6 L461.6,521.9 L462.4,526.6 L452.9,525Z" fill="#fff" stroke="#1a1a1a" stroke-width="1.5" stroke-linejoin="round"/>
<g class="t"><path transform="translate(16.50,254.30) scale(1.000,1.000)" d="M0,2.6Q0,0 2.5,0Q5,0 5,2.5Q5,4 3.6,5.6L0,10H5"/><path transform="translate(22.75,254.30) scale(1.000,1.000)" d="M0,2Q0,0 2.5,0Q5,0 5,2.4Q5,4.8 2.3,4.8Q5,4.8 5,7.4Q5,10 2.5,10Q0,10 0,8"/><path transform="translate(29.00,254.30) scale(1.000,1.000)" d="M2.5,4.8Q0.3,4.8 0.3,2.4Q0.3,0 2.5,0Q4.7,0 4.7,2.4Q4.7,4.8 2.5,4.8Q0,4.8 0,7.4Q0,10 2.5,10Q5,10 5,7.4Q5,4.8 2.5,4.8"/></g>
<path class="k" d="M16.00,268.50 L36.00,268.50"/>
<path class="k" d="M17.00,268.50 L48.00,312.00"/>
<g class="t"><path transform="translate(53.00,254.30) scale(1.000,1.000)" d="M0,2.6Q0,0 2.5,0Q5,0 5,2.5Q5,4 3.6,5.6L0,10H5"/><path transform="translate(59.25,254.30) scale(1.000,1.000)" d="M0,2Q0,0 2.5,0Q5,0 5,2.4Q5,4.8 2.3,4.8Q5,4.8 5,7.4Q5,10 2.5,10Q0,10 0,8"/><path transform="translate(65.50,254.30) scale(1.000,1.000)" d="M0,0H5L1.8,10"/></g>
<path class="k" d="M53.00,268.50 L72.00,268.50"/>
<path class="k" d="M53.50,268.50 L83.00,322.00"/>
<g class="t"><path transform="translate(22.50,334.50) scale(1.000,1.000)" d="M0,2.6Q0,0 2.5,0Q5,0 5,2.5Q5,4 3.6,5.6L0,10H5"/><path transform="translate(28.75,334.50) scale(1.000,1.000)" d="M4,10V0L0,7.2H5"/><path transform="translate(35.00,334.50) scale(1.000,1.000)" d="M1.2,2.2L3,0V10"/></g>
<path class="k" d="M20.00,347.50 L46.00,347.50"/>
<path class="k" d="M46.00,347.50 L68.00,372.50"/>
<g class="t"><path transform="translate(13.00,382.70) scale(1.000,1.000)" d="M0,2.6Q0,0 2.5,0Q5,0 5,2.5Q5,4 3.6,5.6L0,10H5"/><path transform="translate(19.25,382.70) scale(1.000,1.000)" d="M0,2.6Q0,0 2.5,0Q5,0 5,2.5Q5,4 3.6,5.6L0,10H5"/><path transform="translate(25.50,382.70) scale(1.000,1.000)" d="M0,2.6Q0,0 2.5,0Q5,0 5,2.5Q5,4 3.6,5.6L0,10H5"/></g>
<path class="k" d="M12.00,395.50 L35.00,395.50"/>
<path class="k" d="M35.00,395.50 L52.00,377.00"/>
<g class="t"><path transform="translate(131.00,379.00) scale(1.000,1.000)" d="M0,2.6Q0,0 2.5,0Q5,0 5,2.5Q5,4 3.6,5.6L0,10H5"/><path transform="translate(137.25,379.00) scale(1.000,1.000)" d="M0,2.6Q0,0 2.5,0Q5,0 5,2.5Q5,4 3.6,5.6L0,10H5"/><path transform="translate(143.50,379.00) scale(1.000,1.000)" d="M0,2Q0,0 2.5,0Q5,0 5,2.4Q5,4.8 2.3,4.8Q5,4.8 5,7.4Q5,10 2.5,10Q0,10 0,8"/></g>
<path class="k" d="M131.00,391.50 L150.00,391.50"/>
<path class="k" d="M131.50,391.50 L130.00,421.00"/>
<g class="t"><path transform="translate(41.00,421.00) scale(1.000,1.000)" d="M0,2.6Q0,0 2.5,0Q5,0 5,2.5Q5,4 3.6,5.6L0,10H5"/><path transform="translate(47.25,421.00) scale(1.000,1.000)" d="M0,2Q0,0 2.5,0Q5,0 5,2.4Q5,4.8 2.3,4.8Q5,4.8 5,7.4Q5,10 2.5,10Q0,10 0,8"/><path transform="translate(53.50,421.00) scale(1.000,1.000)" d="M4.8,0H0.5V4.6Q1.4,3.8 2.6,3.8Q5,3.8 5,6.9Q5,10 2.5,10Q0,10 0,8"/></g>
<path class="k" d="M40.00,433.50 L60.00,433.50"/>
<path class="k" d="M60.00,433.50 L76.00,429.00"/>
<g class="t"><path transform="translate(52.50,474.00) scale(1.000,1.000)" d="M0,2.6Q0,0 2.5,0Q5,0 5,2.5Q5,4 3.6,5.6L0,10H5"/><path transform="translate(58.75,474.00) scale(1.000,1.000)" d="M0,2Q0,0 2.5,0Q5,0 5,2.4Q5,4.8 2.3,4.8Q5,4.8 5,7.4Q5,10 2.5,10Q0,10 0,8"/><path transform="translate(65.00,474.00) scale(1.000,1.000)" d="M0,2Q0,0 2.5,0Q5,0 5,2.4Q5,4.8 2.3,4.8Q5,4.8 5,7.4Q5,10 2.5,10Q0,10 0,8"/></g>
<path class="k" d="M51.00,486.50 L73.00,486.50"/>
<path class="k" d="M73.00,486.50 L83.00,460.00"/>
<g class="t"><path transform="translate(156.00,182.50) scale(1.000,1.000)" d="M0,2.6Q0,0 2.5,0Q5,0 5,2.5Q5,4 3.6,5.6L0,10H5"/><path transform="translate(162.25,182.50) scale(1.000,1.000)" d="M0,2.6Q0,0 2.5,0Q5,0 5,2.5Q5,4 3.6,5.6L0,10H5"/><path transform="translate(168.50,182.50) scale(1.000,1.000)" d="M1.2,2.2L3,0V10"/></g>
<path class="k" d="M156.00,196.50 L173.00,196.50"/>
<path class="k" d="M157.00,196.50 L160.00,246.00"/>
<g class="t"><path transform="translate(240.00,235.50) scale(1.000,1.000)" d="M0,2.6Q0,0 2.5,0Q5,0 5,2.5Q5,4 3.6,5.6L0,10H5"/><path transform="translate(247.00,235.50) scale(1.000,1.000)" d="M4,10V0L0,7.2H5"/><path transform="translate(254.00,235.50) scale(1.000,1.000)" d="M0,2.6Q0,0 2.5,0Q5,0 5,2.5Q5,4 3.6,5.6L0,10H5"/></g>
<path class="k" d="M234.00,247.50 L262.00,247.50"/>
<path class="k" d="M262.00,247.50 L280.50,300.00"/>
<g class="t"><path transform="translate(282.00,174.50) scale(1.000,1.000)" d="M0,2.6Q0,0 2.5,0Q5,0 5,2.5Q5,4 3.6,5.6L0,10H5"/><path transform="translate(288.25,174.50) scale(1.000,1.000)" d="M0,2Q0,0 2.5,0Q5,0 5,2.4Q5,4.8 2.3,4.8Q5,4.8 5,7.4Q5,10 2.5,10Q0,10 0,8"/><path transform="translate(294.50,174.50) scale(1.000,1.000)" d="M0,8Q0,10 2.5,10Q5,10 5,7.5V2.5Q5,0 2.5,0Q0,0 0,2.8Q0,5.5 2.5,5.5Q5,5.5 5,3"/></g>
<path class="k" d="M282.00,187.50 L301.00,187.50"/>
<path class="k" d="M282.00,187.50 L332.50,197.50"/>
<g class="t"><path transform="translate(378.00,119.50) scale(1.000,1.000)" d="M0,2.6Q0,0 2.5,0Q5,0 5,2.5Q5,4 3.6,5.6L0,10H5"/><path transform="translate(384.25,119.50) scale(1.000,1.000)" d="M0,2.6Q0,0 2.5,0Q5,0 5,2.5Q5,4 3.6,5.6L0,10H5"/><path transform="translate(390.50,119.50) scale(1.000,1.000)" d="M4,10V0L0,7.2H5"/></g>
<path class="k" d="M378.00,132.50 L397.00,132.50"/>
<path class="k" d="M378.00,132.50 L361.00,156.00"/>
<g class="t"><path transform="translate(407.50,145.00) scale(1.000,1.000)" d="M0,2.6Q0,0 2.5,0Q5,0 5,2.5Q5,4 3.6,5.6L0,10H5"/><path transform="translate(413.75,145.00) scale(1.000,1.000)" d="M0,2.6Q0,0 2.5,0Q5,0 5,2.5Q5,4 3.6,5.6L0,10H5"/><path transform="translate(420.00,145.00) scale(1.000,1.000)" d="M4.8,0H0.5V4.6Q1.4,3.8 2.6,3.8Q5,3.8 5,6.9Q5,10 2.5,10Q0,10 0,8"/></g>
<path class="k" d="M407.00,157.50 L427.00,157.50"/>
<path class="k" d="M407.00,157.50 L395.00,176.00"/>
<g class="t"><path transform="translate(394.00,217.50) scale(1.000,1.000)" d="M0,2.6Q0,0 2.5,0Q5,0 5,2.5Q5,4 3.6,5.6L0,10H5"/><path transform="translate(400.25,217.50) scale(1.000,1.000)" d="M0,2.6Q0,0 2.5,0Q5,0 5,2.5Q5,4 3.6,5.6L0,10H5"/><path transform="translate(406.50,217.50) scale(1.000,1.000)" d="M5,2Q5,0 2.5,0Q0,0 0,2.5V7.5Q0,10 2.5,10Q5,10 5,7.2Q5,4.5 2.5,4.5Q0,4.5 0,7"/></g>
<path class="k" d="M394.00,231.50 L413.00,231.50"/>
<path class="k" d="M394.00,231.50 L361.00,233.00"/>
<g class="t"><path transform="translate(394.00,287.00) scale(1.000,1.000)" d="M0,2.6Q0,0 2.5,0Q5,0 5,2.5Q5,4 3.6,5.6L0,10H5"/><path transform="translate(400.25,287.00) scale(1.000,1.000)" d="M0,2.6Q0,0 2.5,0Q5,0 5,2.5Q5,4 3.6,5.6L0,10H5"/><path transform="translate(406.50,287.00) scale(1.000,1.000)" d="M0,0H5L1.8,10"/></g>
<path class="k" d="M394.00,300.50 L414.00,300.50"/>
<path class="k" d="M394.00,300.50 L351.00,327.50"/>
<g class="t"><path transform="translate(602.50,310.00) scale(1.000,1.000)" d="M0,2.6Q0,0 2.5,0Q5,0 5,2.5Q5,4 3.6,5.6L0,10H5"/><path transform="translate(608.75,310.00) scale(1.000,1.000)" d="M0,2Q0,0 2.5,0Q5,0 5,2.4Q5,4.8 2.3,4.8Q5,4.8 5,7.4Q5,10 2.5,10Q0,10 0,8"/><path transform="translate(615.00,310.00) scale(1.000,1.000)" d="M4,10V0L0,7.2H5"/></g>
<path class="k" d="M602.00,323.50 L622.00,323.50"/>
<path class="k" d="M602.00,323.50 L574.00,356.00"/>
<g class="t"><path transform="translate(642.50,380.00) scale(1.000,1.000)" d="M0,2.6Q0,0 2.5,0Q5,0 5,2.5Q5,4 3.6,5.6L0,10H5"/><path transform="translate(648.75,380.00) scale(1.000,1.000)" d="M0,2Q0,0 2.5,0Q5,0 5,2.4Q5,4.8 2.3,4.8Q5,4.8 5,7.4Q5,10 2.5,10Q0,10 0,8"/><path transform="translate(655.00,380.00) scale(1.000,1.000)" d="M5,2Q5,0 2.5,0Q0,0 0,2.5V7.5Q0,10 2.5,10Q5,10 5,7.2Q5,4.5 2.5,4.5Q0,4.5 0,7"/></g>
<path class="k" d="M642.00,392.50 L662.00,392.50"/>
<path class="k" d="M642.00,392.50 L626.00,414.00"/>
<g class="t"><path transform="translate(647.50,442.50) scale(1.000,1.000)" d="M0,2.6Q0,0 2.5,0Q5,0 5,2.5Q5,4 3.6,5.6L0,10H5"/><path transform="translate(653.75,442.50) scale(1.000,1.000)" d="M4,10V0L0,7.2H5"/><path transform="translate(660.00,442.50) scale(1.000,1.000)" d="M0,2.5Q0,0 2.5,0Q5,0 5,2.5V7.5Q5,10 2.5,10Q0,10 0,7.5Z"/></g>
<path class="k" d="M640.00,453.50 L670.00,453.50"/>
<path class="k" d="M640.00,453.50 L625.00,461.00"/>
<g class="t"><path transform="translate(615.40,527.50) scale(1.000,1.000)" d="M0,2.6Q0,0 2.5,0Q5,0 5,2.5Q5,4 3.6,5.6L0,10H5"/><path transform="translate(621.65,527.50) scale(1.000,1.000)" d="M0,2.6Q0,0 2.5,0Q5,0 5,2.5Q5,4 3.6,5.6L0,10H5"/><path transform="translate(627.90,527.50) scale(1.000,1.000)" d="M0,2Q0,0 2.5,0Q5,0 5,2.4Q5,4.8 2.3,4.8Q5,4.8 5,7.4Q5,10 2.5,10Q0,10 0,8"/></g>
<path class="k" d="M615.00,541.50 L634.70,541.50"/>
<path class="k" d="M615.00,541.50 L605.10,545.40"/>
<g class="t"><path transform="translate(663.30,535.60) scale(1.000,1.000)" d="M0,2.6Q0,0 2.5,0Q5,0 5,2.5Q5,4 3.6,5.6L0,10H5"/><path transform="translate(669.55,535.60) scale(1.000,1.000)" d="M0,2Q0,0 2.5,0Q5,0 5,2.4Q5,4.8 2.3,4.8Q5,4.8 5,7.4Q5,10 2.5,10Q0,10 0,8"/><path transform="translate(675.80,535.60) scale(1.000,1.000)" d="M4.8,0H0.5V4.6Q1.4,3.8 2.6,3.8Q5,3.8 5,6.9Q5,10 2.5,10Q0,10 0,8"/></g>
<path class="k" d="M663.00,548.50 L682.60,548.50"/>
<path class="k" d="M663.00,548.50 L658.60,555.60"/>
<g class="t"><path transform="translate(227.50,405.00) scale(1.000,1.000)" d="M0,2.6Q0,0 2.5,0Q5,0 5,2.5Q5,4 3.6,5.6L0,10H5"/><path transform="translate(233.75,405.00) scale(1.000,1.000)" d="M0,2.6Q0,0 2.5,0Q5,0 5,2.5Q5,4 3.6,5.6L0,10H5"/><path transform="translate(240.00,405.00) scale(1.000,1.000)" d="M0,8Q0,10 2.5,10Q5,10 5,7.5V2.5Q5,0 2.5,0Q0,0 0,2.8Q0,5.5 2.5,5.5Q5,5.5 5,3"/></g>
<path class="k" d="M227.00,418.50 L246.00,418.50"/>
<path class="k" d="M227.00,418.50 L223.75,448.75"/>
<g class="t"><path transform="translate(257.50,405.00) scale(1.000,1.000)" d="M0,2.6Q0,0 2.5,0Q5,0 5,2.5Q5,4 3.6,5.6L0,10H5"/><path transform="translate(263.75,405.00) scale(1.000,1.000)" d="M0,2.6Q0,0 2.5,0Q5,0 5,2.5Q5,4 3.6,5.6L0,10H5"/><path transform="translate(270.00,405.00) scale(1.000,1.000)" d="M2.5,4.8Q0.3,4.8 0.3,2.4Q0.3,0 2.5,0Q4.7,0 4.7,2.4Q4.7,4.8 2.5,4.8Q0,4.8 0,7.4Q0,10 2.5,10Q5,10 5,7.4Q5,4.8 2.5,4.8"/></g>
<path class="k" d="M257.00,418.50 L277.00,418.50"/>
<path class="k" d="M257.00,418.50 L246.00,450.00"/>
<g class="t"><path transform="translate(385.00,452.50) scale(1.000,1.000)" d="M0,2.6Q0,0 2.5,0Q5,0 5,2.5Q5,4 3.6,5.6L0,10H5"/><path transform="translate(391.25,452.50) scale(1.000,1.000)" d="M0,2Q0,0 2.5,0Q5,0 5,2.4Q5,4.8 2.3,4.8Q5,4.8 5,7.4Q5,10 2.5,10Q0,10 0,8"/><path transform="translate(397.50,452.50) scale(1.000,1.000)" d="M0,2.6Q0,0 2.5,0Q5,0 5,2.5Q5,4 3.6,5.6L0,10H5"/></g>
<path class="k" d="M385.00,465.50 L405.00,465.50"/>
<path class="k" d="M385.00,465.50 L372.50,492.50"/>
<g class="t"><path transform="translate(446.00,437.00) scale(1.000,1.000)" d="M0,2.6Q0,0 2.5,0Q5,0 5,2.5Q5,4 3.6,5.6L0,10H5"/><path transform="translate(452.25,437.00) scale(1.000,1.000)" d="M0,2Q0,0 2.5,0Q5,0 5,2.4Q5,4.8 2.3,4.8Q5,4.8 5,7.4Q5,10 2.5,10Q0,10 0,8"/><path transform="translate(458.50,437.00) scale(1.000,1.000)" d="M0,2.5Q0,0 2.5,0Q5,0 5,2.5V7.5Q5,10 2.5,10Q0,10 0,7.5Z"/></g>
<path class="k" d="M446.00,448.50 L465.00,448.50"/>
<path class="k" d="M446.00,448.50 L432.50,489.00"/>
<g class="t"><path transform="translate(464.00,460.00) scale(1.000,1.000)" d="M0,2.6Q0,0 2.5,0Q5,0 5,2.5Q5,4 3.6,5.6L0,10H5"/><path transform="translate(470.25,460.00) scale(1.000,1.000)" d="M0,2Q0,0 2.5,0Q5,0 5,2.4Q5,4.8 2.3,4.8Q5,4.8 5,7.4Q5,10 2.5,10Q0,10 0,8"/><path transform="translate(476.50,460.00) scale(1.000,1.000)" d="M1.2,2.2L3,0V10"/></g>
<path class="k" d="M463.00,472.50 L481.00,472.50"/>
<path class="k" d="M463.00,472.50 L460.50,520.00"/>
<g class="t"><path transform="translate(482.50,475.00) scale(1.000,1.000)" d="M0,2.6Q0,0 2.5,0Q5,0 5,2.5Q5,4 3.6,5.6L0,10H5"/><path transform="translate(488.75,475.00) scale(1.000,1.000)" d="M0,2.6Q0,0 2.5,0Q5,0 5,2.5Q5,4 3.6,5.6L0,10H5"/><path transform="translate(495.00,475.00) scale(1.000,1.000)" d="M2.5,4.8Q0.3,4.8 0.3,2.4Q0.3,0 2.5,0Q4.7,0 4.7,2.4Q4.7,4.8 2.5,4.8Q0,4.8 0,7.4Q0,10 2.5,10Q5,10 5,7.4Q5,4.8 2.5,4.8"/></g>
<path class="k" d="M482.00,487.50 L502.00,487.50"/>
<path class="k" d="M482.00,487.50 L476.00,506.00"/>
<g class="t"><path transform="translate(452.50,570.00) scale(1.000,1.000)" d="M0,2.6Q0,0 2.5,0Q5,0 5,2.5Q5,4 3.6,5.6L0,10H5"/><path transform="translate(458.75,570.00) scale(1.000,1.000)" d="M0,2.6Q0,0 2.5,0Q5,0 5,2.5Q5,4 3.6,5.6L0,10H5"/><path transform="translate(465.00,570.00) scale(1.000,1.000)" d="M0,8Q0,10 2.5,10Q5,10 5,7.5V2.5Q5,0 2.5,0Q0,0 0,2.8Q0,5.5 2.5,5.5Q5,5.5 5,3"/></g>
<path class="k" d="M451.00,582.50 L471.00,582.50"/>
<path class="k" d="M471.00,582.50 L495.50,540.00"/>
<g class="t"><path transform="translate(351.00,556.00) scale(1.000,1.000)" d="M0,2.6Q0,0 2.5,0Q5,0 5,2.5Q5,4 3.6,5.6L0,10H5"/><path transform="translate(357.25,556.00) scale(1.000,1.000)" d="M0,2.6Q0,0 2.5,0Q5,0 5,2.5Q5,4 3.6,5.6L0,10H5"/><path transform="translate(363.50,556.00) scale(1.000,1.000)" d="M5,2Q5,0 2.5,0Q0,0 0,2.5V7.5Q0,10 2.5,10Q5,10 5,7.2Q5,4.5 2.5,4.5Q0,4.5 0,7"/></g>
<path class="k" d="M347.50,568.50 L366.00,568.50"/>
<path class="k" d="M347.50,568.50 L351.00,526.00"/>
<path class="k" d="M616.60,464.00 L616.60,509.00"/>
</svg>
</body></html>
